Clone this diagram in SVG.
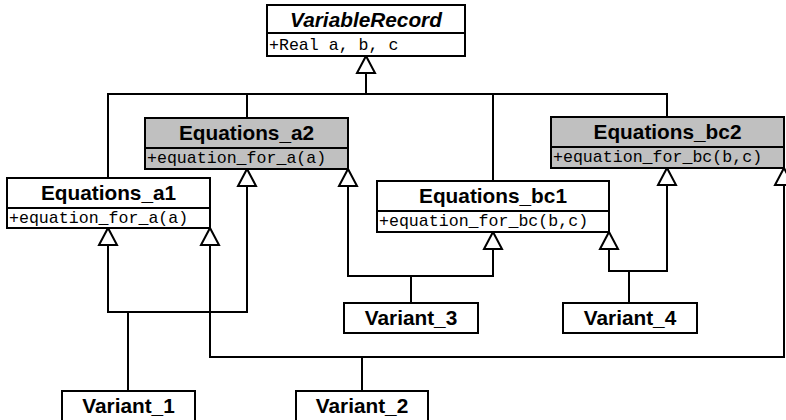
<svg xmlns="http://www.w3.org/2000/svg" width="786" height="420" viewBox="0 0 786 420">
<style>
.box{fill:#fff;stroke:#000;stroke-width:2}
.gray{fill:#c0c0c0}
.div{stroke:#000;stroke-width:2}
.title{font-family:"Liberation Sans",Arial,Helvetica,sans-serif;font-weight:bold;font-size:20.8px;text-anchor:middle;fill:#000}
.ital{font-style:italic}
.attr{font-family:"Liberation Mono","Courier New",monospace;font-size:16.6px;fill:#000}
.conn{fill:none;stroke:#000;stroke-width:2}
.inh{marker-end:url(#tri)}
</style>
<defs>
<marker id="tri" markerUnits="userSpaceOnUse" markerWidth="22" markerHeight="22" viewBox="0 0 22 22" refX="19" refY="11" orient="auto" overflow="visible">
<path d="M2,2 L19,11 L2,20 Z" fill="#fff" stroke="#000" stroke-width="2" stroke-linejoin="miter"/>
</marker>
</defs>
<g id="connectors">
<path class="conn" d="M108,178 V94 H667 V117"/>
<path class="conn" d="M247,94 V118"/>
<path class="conn" d="M493,94 V181"/>
<path class="conn inh" d="M366,94 V56"/>
<path class="conn inh" d="M128,391 V312 H108 V228"/>
<path class="conn inh" d="M128,312 H247 V169"/>
<path class="conn inh" d="M362,391 V357 H210 V228"/>
<path class="conn inh" d="M362,357 H784 V168"/>
<path class="conn inh" d="M411,303 V276 H348 V169"/>
<path class="conn inh" d="M411,276 H493 V232"/>
<path class="conn inh" d="M629,303 V271 H609 V232"/>
<path class="conn inh" d="M629,271 H667 V168"/>
</g>
<g id="VariableRecord">
<rect class="box" x="267" y="5" width="198" height="51"/>
<line class="div" x1="267" y1="33" x2="465" y2="33"/>
<text class="title ital" x="366" y="27">VariableRecord</text>
<text class="attr" x="269" y="50">+Real a, b, c</text>
</g>
<g id="Equations_a2">
<rect class="box gray" x="145" y="118" width="203" height="51"/>
<line class="div" x1="145" y1="148" x2="348" y2="148"/>
<text class="title" x="246.5" y="139.5">Equations_a2</text>
<text class="attr" x="147" y="163">+equation_for_a(a)</text>
</g>
<g id="Equations_a1">
<rect class="box" x="7" y="178" width="203" height="50"/>
<line class="div" x1="7" y1="208" x2="210" y2="208"/>
<text class="title" x="108.5" y="199.5">Equations_a1</text>
<text class="attr" x="9" y="223">+equation_for_a(a)</text>
</g>
<g id="Equations_bc1">
<rect class="box" x="377" y="181" width="232" height="51"/>
<line class="div" x1="377" y1="211" x2="609" y2="211"/>
<text class="title" x="493" y="202.5">Equations_bc1</text>
<text class="attr" x="379" y="226">+equation_for_bc(b,c)</text>
</g>
<g id="Equations_bc2">
<rect class="box gray" x="551" y="117" width="233" height="51"/>
<line class="div" x1="551" y1="147" x2="784" y2="147"/>
<text class="title" x="667.5" y="138.5">Equations_bc2</text>
<text class="attr" x="553" y="162">+equation_for_bc(b,c)</text>
</g>
<g id="Variant_3">
<rect class="box" x="344" y="303" width="134" height="30"/>
<text class="title" x="411" y="324.5">Variant_3</text>
</g>
<g id="Variant_4">
<rect class="box" x="563" y="303" width="134" height="30"/>
<text class="title" x="630" y="324.5">Variant_4</text>
</g>
<g id="Variant_1">
<rect class="box" x="62" y="391" width="133" height="31"/>
<text class="title" x="128.5" y="412.5">Variant_1</text>
</g>
<g id="Variant_2">
<rect class="box" x="296" y="391" width="132" height="31"/>
<text class="title" x="362" y="412.5">Variant_2</text>
</g>
</svg>
